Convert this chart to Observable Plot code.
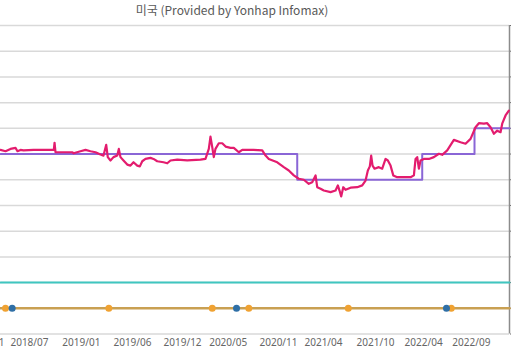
<!DOCTYPE html>
<html>
<head>
<meta charset="utf-8">
<script src="https://cdn.jsdelivr.net/npm/d3@7"></script>
<script src="https://cdn.jsdelivr.net/npm/@observablehq/plot@0.6"></script>
<style>
  html, body { margin: 0; padding: 0; background: #ffffff; }
  #wrap { position: relative; width: 511px; height: 355px; overflow: hidden; }
  #title { position: absolute; left: 0; top: 0; width: 464px; height: 20px; line-height: 20px;
           text-align: center; font-family: "Noto Sans CJK KR", "Noto Sans", sans-serif; font-size: 12px; color: #595959; }
  #chart { position: absolute; left: 0; top: 20px; }
</style>
</head>
<body>
<div id="wrap">
  <div id="title">미국 (Provided by Yonhap Infomax)</div>
  <div id="chart"></div>
</div>
<script>
// ---- data (x in decimal years, y in chart units) ----
const titleText = "미국 (Provided by Yonhap Infomax)";
const xDomain = [2018.224, 2023.111];
const yDomain = [0, 12];
const gridValues = [0, 1, 2, 3, 4, 5, 6, 7, 8, 9, 10, 11, 12];

const tickYears = [2018.08, 2018.502, 2019.0, 2019.491, 2019.972, 2020.41, 2020.893, 2021.325, 2021.825, 2022.286, 2022.745];
const tickLabels = ["2018/01", "2018/07", "2019/01", "2019/06", "2019/12", "2020/05", "2020/11", "2021/04", "2021/10", "2022/04", "2022/09"];

const pinkSeries = [
  [2018.224,7.16],[2018.272,7.11],[2018.320,7.20],[2018.368,7.24],[2018.387,7.11],[2018.416,7.16],[2018.445,7.14],
  [2018.541,7.16],[2018.736,7.16],[2018.743,7.44],[2018.752,7.07],[2018.771,7.07],[2018.915,7.07],[2018.925,7.03],
  [2018.992,7.11],[2019.040,7.16],[2019.088,7.11],[2019.136,7.07],[2019.184,6.98],[2019.213,6.94],[2019.239,7.36],
  [2019.254,6.88],[2019.280,6.75],[2019.309,6.88],[2019.345,6.94],[2019.360,7.20],[2019.376,6.88],[2019.405,6.75],
  [2019.441,6.59],[2019.472,6.55],[2019.501,6.68],[2019.537,6.55],[2019.562,6.52],[2019.585,6.72],[2019.616,6.81],
  [2019.664,6.85],[2019.693,6.81],[2019.729,6.72],[2019.789,6.68],[2019.825,6.64],[2019.856,6.75],[2019.921,6.78],
  [2020.017,6.75],[2020.144,6.78],[2020.192,6.81],[2020.224,7.20],[2020.240,7.68],[2020.257,7.27],[2020.272,6.88],
  [2020.288,7.20],[2020.320,7.42],[2020.353,7.42],[2020.385,7.29],[2020.432,7.24],[2020.464,7.24],[2020.512,7.07],
  [2020.545,7.16],[2020.653,7.16],[2020.737,7.14],[2020.769,6.94],[2020.800,6.81],[2020.881,6.68],[2020.944,6.49],
  [2020.992,6.36],[2021.040,6.17],[2021.088,6.04],[2021.136,6.00],[2021.184,5.84],[2021.217,5.90],[2021.249,6.17],
  [2021.265,5.71],[2021.297,5.65],[2021.328,5.58],[2021.393,5.52],[2021.441,5.58],[2021.463,5.78],[2021.479,5.58],
  [2021.495,5.35],[2021.515,5.71],[2021.537,5.61],[2021.585,5.69],[2021.649,5.71],[2021.697,5.78],[2021.729,5.97],
  [2021.751,6.36],[2021.770,6.52],[2021.783,6.94],[2021.796,6.55],[2021.815,6.43],[2021.856,6.49],[2021.889,6.43],
  [2021.921,6.81],[2021.943,6.75],[2021.969,6.55],[2021.995,6.17],[2022.033,6.10],[2022.161,6.10],[2022.193,6.17],
  [2022.209,6.81],[2022.225,6.88],[2022.241,6.43],[2022.257,6.75],[2022.289,6.81],[2022.337,6.81],[2022.385,6.88],
  [2022.433,7.01],[2022.465,6.97],[2022.513,7.14],[2022.577,7.55],[2022.641,7.46],[2022.689,7.40],[2022.737,7.59],
  [2022.785,8.04],[2022.817,8.20],[2022.865,8.18],[2022.897,8.20],[2022.929,8.04],[2022.961,7.79],[2022.993,7.91],
  [2023.025,7.85],[2023.041,8.18],[2023.073,8.50],[2023.105,8.69]
];

const purpleSteps = [[2018.224,7],[2021.073,6],[2022.273,7],[2022.775,8],[2023.111,8]];
const tealLevel = [[2018.224,2],[2023.111,2]];
const orangeLevel = [[2018.224,1],[2023.111,1]];
const orangeDots = [2018.272, 2019.264, 2020.257, 2020.608, 2021.563, 2022.552];
const blueDots = [2018.336, 2020.490, 2022.506];

// ---- drawing ----
const labelMap = new Map(tickYears.map((t, i) => [t, tickLabels[i]]));

const chart = Plot.plot({
  width: 511,
  height: 335,
  marginTop: 5,
  marginBottom: 21.5,
  marginLeft: 0,
  marginRight: 2,
  style: { fontFamily: "'Noto Sans', sans-serif", fontSize: "10px", color: "#666666", background: "transparent", overflow: "visible" },
  x: { domain: xDomain, ticks: tickYears, tickFormat: d => labelMap.get(d), tickSize: 0, tickPadding: 5, label: null },
  y: { domain: yDomain, axis: "right", ticks: gridValues, tickSize: 3, tickFormat: () => "", label: null },
  marks: [
    Plot.ruleY(gridValues, { stroke: "#d9d9d9", strokeWidth: 1.5 }),
    Plot.ruleX([xDomain[1]], { stroke: "#8c8c8c", strokeWidth: 1.5 }),
    Plot.line(tealLevel, { x: d => d[0], y: d => d[1], stroke: "#3fc6c0", strokeWidth: 2 }),
    Plot.line(orangeLevel, { x: d => d[0], y: d => d[1], stroke: "#c9a052", strokeWidth: 2.5 }),
    Plot.dot(orangeDots, { x: d => d, y: 1, r: 3.5, fill: "#f0a232", stroke: "none" }),
    Plot.dot(blueDots, { x: d => d, y: 1, r: 3.5, fill: "#2f6fa6", stroke: "none" }),
    Plot.line(purpleSteps, { x: d => d[0], y: d => d[1], curve: "step-after", stroke: "#8a66d6", strokeWidth: 2 }),
    Plot.line(pinkSeries, { x: d => d[0], y: d => d[1], stroke: "#e31c6e", strokeWidth: 2.2, strokeLinejoin: "round" })
  ]
});
document.getElementById("chart").appendChild(chart);
</script>
</body>
</html>
